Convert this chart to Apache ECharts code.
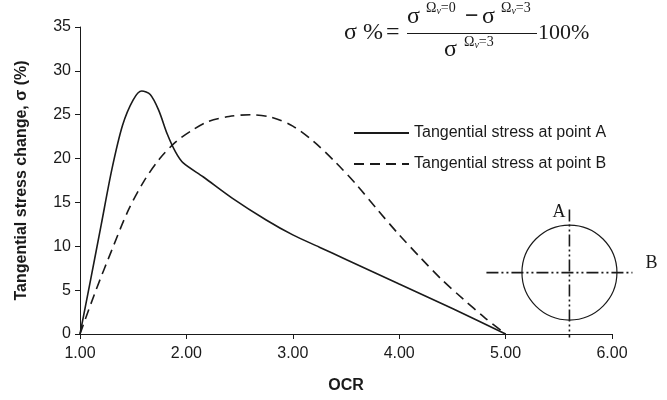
<!DOCTYPE html>
<html>
<head>
<meta charset="utf-8">
<script src="https://cdn.jsdelivr.net/npm/echarts@6/dist/echarts.min.js"></script>
<style>
  html, body { margin: 0; padding: 0; background: #fff; }
  #chart { width: 667px; height: 400px; }
</style>
</head>
<body>
<div id="chart"></div>
<script>
// Tangential stress change vs. over-consolidation ratio
const ocrA = [1.0, 1.1, 1.2, 1.3, 1.4, 1.5, 1.58, 1.66, 1.74, 1.82, 1.9, 1.97, 2.16, 2.43, 2.75, 3.0, 3.25, 3.5, 4.0, 4.5, 5.0];
const stressA = [0, 6.2, 12.5, 18.8, 23.8, 26.7, 27.7, 27.3, 25.5, 22.8, 20.7, 19.5, 17.9, 15.5, 13.0, 11.3, 9.9, 8.5, 5.7, 2.9, 0];

const ocrB = [1.0, 1.15, 1.3, 1.45, 1.6, 1.75, 1.9, 2.05, 2.2, 2.4, 2.6, 2.8, 3.0, 3.2, 3.4, 3.6, 3.8, 4.0, 4.2, 4.4, 4.6, 4.8, 5.0];
const stressB = [0, 5.0, 9.6, 14.0, 17.4, 20.0, 21.9, 23.2, 24.2, 24.8, 25.0, 24.7, 23.7, 21.9, 19.6, 17.0, 14.1, 11.3, 8.7, 6.2, 4.0, 1.9, 0];

const seriesNames = ['Tangential stress at point A', 'Tangential stress at point B'];
const xTicks = { min: 1, max: 6, step: 1 };
const yTicks = { min: 0, max: 35, step: 5 };

// borehole cross-section sketch, centre given in axis units
const sketchCentre = [5.6, 7.0];

const zip = (xs, ys) => xs.map((x, i) => [x, ys[i]]);
const ink = '#1a1a1a';
const sans = '"Liberation Sans", Arial, sans-serif';
const serif = '"Liberation Serif", "Times New Roman", serif';

const chart = echarts.init(document.getElementById('chart'), null, { renderer: 'canvas' });

chart.setOption({
  animation: false,
  backgroundColor: '#fff',
  grid: { left: 80, right: 55, top: 27, bottom: 66 },
  xAxis: {
    type: 'value',
    min: xTicks.min, max: xTicks.max, interval: xTicks.step,
    name: 'OCR', nameLocation: 'middle', nameGap: 44,
    nameTextStyle: { fontFamily: sans, fontSize: 16, fontWeight: 'bold', color: ink },
    axisLine: { lineStyle: { color: ink, width: 1 } },
    axisTick: { show: true, length: 5, lineStyle: { color: ink } },
    axisLabel: { margin: 12, fontFamily: sans, fontSize: 16, color: ink, formatter: v => v.toFixed(2) },
    splitLine: { show: false }
  },
  yAxis: {
    type: 'value',
    min: yTicks.min, max: yTicks.max, interval: yTicks.step,
    name: 'Tangential stress change, σ (%)', nameLocation: 'middle', nameGap: 50,
    nameTextStyle: { fontFamily: sans, fontSize: 16, fontWeight: 'bold', color: ink },
    axisLine: { show: true, lineStyle: { color: ink, width: 1 } },
    axisTick: { show: true, length: 5, lineStyle: { color: ink } },
    axisLabel: { margin: 9, fontFamily: sans, fontSize: 16, color: ink },
    splitLine: { show: false }
  },
  legend: {
    orient: 'vertical',
    left: 348, top: 120,
    itemWidth: 55, itemHeight: 14, itemGap: 15,
    itemStyle: { opacity: 0 },
    textStyle: { fontFamily: sans, fontSize: 16, color: ink },
    data: seriesNames
  },
  series: [
    {
      name: seriesNames[0], type: 'line', data: zip(ocrA, stressA),
      smooth: 0.3, showSymbol: false, symbol: 'none',
      lineStyle: { color: ink, width: 1.6, type: 'solid' },
      itemStyle: { color: ink }
    },
    {
      name: seriesNames[1], type: 'line', data: zip(ocrB, stressB),
      smooth: 0.3, showSymbol: false, symbol: 'none',
      lineStyle: { color: ink, width: 1.6, type: [10, 6] },
      itemStyle: { color: ink }
    }
  ]
});

// Formula text and the cross-section sketch
const [cx, cy] = chart.convertToPixel({ gridIndex: 0 }, sketchCentre);
const r = 47.5;
const dashDotDot = [12, 3, 2, 3, 2, 3];

const txt = (x, y, s, size, extra) => Object.assign({
  type: 'text', x, y,
  style: Object.assign({ text: s, fontFamily: serif, fontSize: size, fill: ink, textAlign: 'left', textVerticalAlign: 'middle' }, extra || {})
});
const omegaRich = {
  o: { fontFamily: serif, fontSize: 14, fill: ink },
  s: { fontFamily: serif, fontSize: 10, fill: ink, fontStyle: 'italic', padding: [7, 0, 0, 0] }
};

chart.setOption({
  graphic: [
    // σ % = (σ^{Ωv=0} − σ^{Ωv=3}) / σ^{Ωv=3} 100%
    txt(344, 33, 'σ %', 24),
    txt(386, 33, '=', 24),
    { type: 'line', shape: { x1: 407, y1: 33.5, x2: 537, y2: 33.5 }, style: { stroke: ink, lineWidth: 1.2 } },
    txt(407, 17, 'σ', 24),
    txt(426, 8, '', 14, { text: '{o|Ω}{s|v}{o|=0}', rich: omegaRich }),
    txt(465, 17, '−', 24, { fontWeight: 'bold' }),
    txt(482, 17, 'σ', 24),
    txt(501, 8, '', 14, { text: '{o|Ω}{s|v}{o|=3}', rich: omegaRich }),
    txt(444, 50, 'σ', 24),
    txt(464, 42, '', 14, { text: '{o|Ω}{s|v}{o|=3}', rich: omegaRich }),
    txt(538, 33, '100%', 22),

    // cross-section sketch
    { type: 'circle', shape: { cx, cy, r }, style: { fill: 'none', stroke: ink, lineWidth: 1.2 } },
    { type: 'line', shape: { x1: cx - 83, y1: cy, x2: cx + 63, y2: cy }, style: { stroke: ink, lineWidth: 1.6, lineDash: dashDotDot } },
    { type: 'line', shape: { x1: cx, y1: cy - 63, x2: cx, y2: cy + 65 }, style: { stroke: ink, lineWidth: 1.6, lineDash: dashDotDot } },
    txt(cx - 17, cy - 60, 'A', 18),
    txt(cx + 76, cy - 9, 'B', 18)
  ]
});
</script>
</body>
</html>
